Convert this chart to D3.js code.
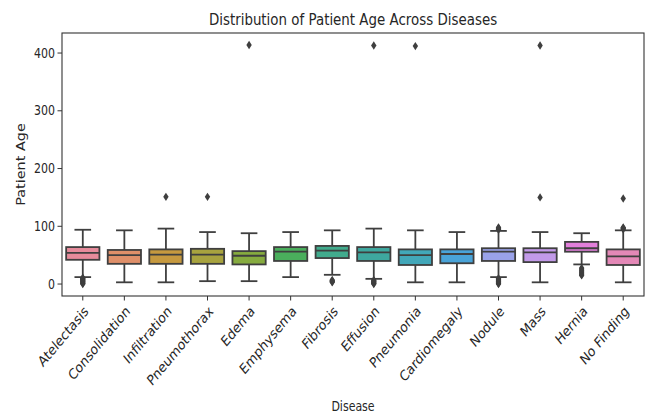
<!DOCTYPE html>
<html>
<head>
<meta charset="utf-8">
<script src="https://cdn.jsdelivr.net/npm/d3@7.9.0/dist/d3.min.js"></script>
<style>
  body { margin: 0; background: #fff; }
  text { font-family: "DejaVu Sans", sans-serif; fill: #262626; }
</style>
</head>
<body>
<svg id="chart" width="651" height="417"></svg>
<script>
// values (patient age)
const diseases = ["Atelectasis", "Consolidation", "Infiltration", "Pneumothorax", "Edema", "Emphysema",
  "Fibrosis", "Effusion", "Pneumonia", "Cardiomegaly", "Nodule", "Mass", "Hernia", "No Finding"];
const whiskerLow = [12, 3, 3, 5, 5, 12, 16, 9, 3, 3, 12, 3, 34, 3];
const q1 = [42, 35, 35, 35, 34, 40, 45, 40, 33, 36, 40, 38, 56, 33];
const medians = [54, 50, 51, 51, 49, 56, 58, 55, 50, 52, 56, 55, 62, 48];
const q3 = [64, 59, 60, 61, 57, 64, 66, 64, 60, 60, 62, 62, 73, 60];
const whiskerHigh = [94, 93, 96, 90, 88, 90, 93, 96, 93, 90, 92, 90, 88, 93];
const outliers = [
  [0, 1, 2, 3, 4, 5, 6, 7, 8, 9, 10, 11],
  [],
  [151],
  [151],
  [414],
  [],
  [3, 4, 5, 6, 7],
  [0, 1, 2, 3, 4, 5, 6, 7, 413],
  [412],
  [],
  [0, 1, 2, 3, 4, 5, 6, 7, 8, 9, 10, 94, 95, 96, 97, 98],
  [150, 413],
  [15, 16, 18, 20, 22, 24, 26, 28],
  [95, 96, 97, 98, 148]
];
const boxColors = ["#e68b9b", "#df8f69", "#c6993f", "#a8a33f", "#86ab3f", "#4aae5c", "#41ab8d",
  "#3ea89f", "#42a7b9", "#49a3d8", "#9aa2e9", "#c29ae8", "#e27fdb", "#e488b7"];
const yTicks = [0, 100, 200, 300, 400];

const W = 651, H = 417;
const m = { left: 62, right: 644, top: 33, bottom: 296 };
const stretch = 1.2; // the reference is stretched vertically
const ink = "#3f3f3f";

const svg = d3.select("#chart");

const allVals = d3.merge([whiskerLow, whiskerHigh, ...outliers]);
const lo = d3.min(allVals), hi = d3.max(allVals);
const pad = (hi - lo) * 0.05;

const x = d3.scaleBand().domain(diseases).range([m.left, m.right]).padding(0);
const y = d3.scaleLinear().domain([lo - pad, hi + pad]).range([m.bottom, m.top]);

const boxW = x.bandwidth() * 0.8;
const capW = boxW * 0.5;

const data = diseases.map((d, i) => ({
  name: d, lo: whiskerLow[i], q1: q1[i], med: medians[i], q3: q3[i], hi: whiskerHigh[i],
  out: outliers[i], color: boxColors[i]
}));

const g = svg.append("g");
const cx = d => x(d.name) + x.bandwidth() / 2;

const box = g.selectAll("g.box").data(data).join("g").attr("class", "box");

// whiskers
box.append("line")
  .attr("x1", cx).attr("x2", cx)
  .attr("y1", d => y(d.q3)).attr("y2", d => y(d.hi))
  .attr("stroke", ink).attr("stroke-width", 1.8);
box.append("line")
  .attr("x1", cx).attr("x2", cx)
  .attr("y1", d => y(d.q1)).attr("y2", d => y(d.lo))
  .attr("stroke", ink).attr("stroke-width", 1.8);

// caps
["lo", "hi"].forEach(k => {
  box.append("line")
    .attr("x1", d => cx(d) - capW / 2).attr("x2", d => cx(d) + capW / 2)
    .attr("y1", d => y(d[k])).attr("y2", d => y(d[k]))
    .attr("stroke", ink).attr("stroke-width", 1.8);
});

// boxes
box.append("rect")
  .attr("x", d => cx(d) - boxW / 2)
  .attr("width", boxW)
  .attr("y", d => y(d.q3))
  .attr("height", d => y(d.q1) - y(d.q3))
  .attr("fill", d => d.color)
  .attr("stroke", ink).attr("stroke-width", 1.8);

// medians
box.append("line")
  .attr("x1", d => cx(d) - boxW / 2).attr("x2", d => cx(d) + boxW / 2)
  .attr("y1", d => y(d.med)).attr("y2", d => y(d.med))
  .attr("stroke", ink).attr("stroke-width", 1.8);

// outliers: thin diamonds
const diamond = "M0,-4.2L2.7,0L0,4.2L-2.7,0Z";
box.each(function (d) {
  d3.select(this).selectAll("path.out").data(d.out).join("path")
    .attr("class", "out")
    .attr("d", diamond)
    .attr("transform", v => `translate(${cx(d)},${y(v)})`)
    .attr("fill", ink);
});

// frame
svg.append("rect")
  .attr("x", m.left).attr("y", m.top)
  .attr("width", m.right - m.left).attr("height", m.bottom - m.top)
  .attr("fill", "none").attr("stroke", "#333").attr("stroke-width", 1.1);

// y axis
const yAxis = svg.append("g");
yTicks.forEach(t => {
  yAxis.append("line")
    .attr("x1", m.left - 4.5).attr("x2", m.left)
    .attr("y1", y(t)).attr("y2", y(t))
    .attr("stroke", "#333").attr("stroke-width", 1);
  yAxis.append("text")
    .attr("transform", `translate(${m.left - 7},${y(t)}) scale(1,${stretch})`)
    .attr("text-anchor", "end").attr("dy", "0.35em")
    .attr("font-size", 11)
    .text(t);
});

// x axis
const xAxis = svg.append("g");
diseases.forEach(dz => {
  const px = x(dz) + x.bandwidth() / 2;
  xAxis.append("line")
    .attr("x1", px).attr("x2", px)
    .attr("y1", m.bottom).attr("y2", m.bottom + 4.5)
    .attr("stroke", "#333").attr("stroke-width", 1);
  xAxis.append("text")
    .attr("transform", `translate(${px + 0.5},${m.bottom + 9}) scale(1,${stretch}) rotate(-45)`)
    .attr("text-anchor", "end").attr("dy", "0.7em")
    .attr("font-size", 12)
    .text(dz);
});

// labels
svg.append("text")
  .attr("transform", `translate(${(m.left + m.right) / 2},${m.top - 8.5}) scale(1,${stretch})`)
  .attr("text-anchor", "middle").attr("font-size", 13.4)
  .text("Distribution of Patient Age Across Diseases");

svg.append("text")
  .attr("transform", `translate(${(m.left + m.right) / 2},${H - 6}) scale(1,${stretch})`)
  .attr("text-anchor", "middle").attr("font-size", 11)
  .text("Disease");

svg.append("text")
  .attr("transform", `translate(25,${(m.top + m.bottom) / 2}) scale(1,${stretch}) rotate(-90)`)
  .attr("text-anchor", "middle").attr("font-size", 12)
  .text("Patient Age");
</script>
</body>
</html>
